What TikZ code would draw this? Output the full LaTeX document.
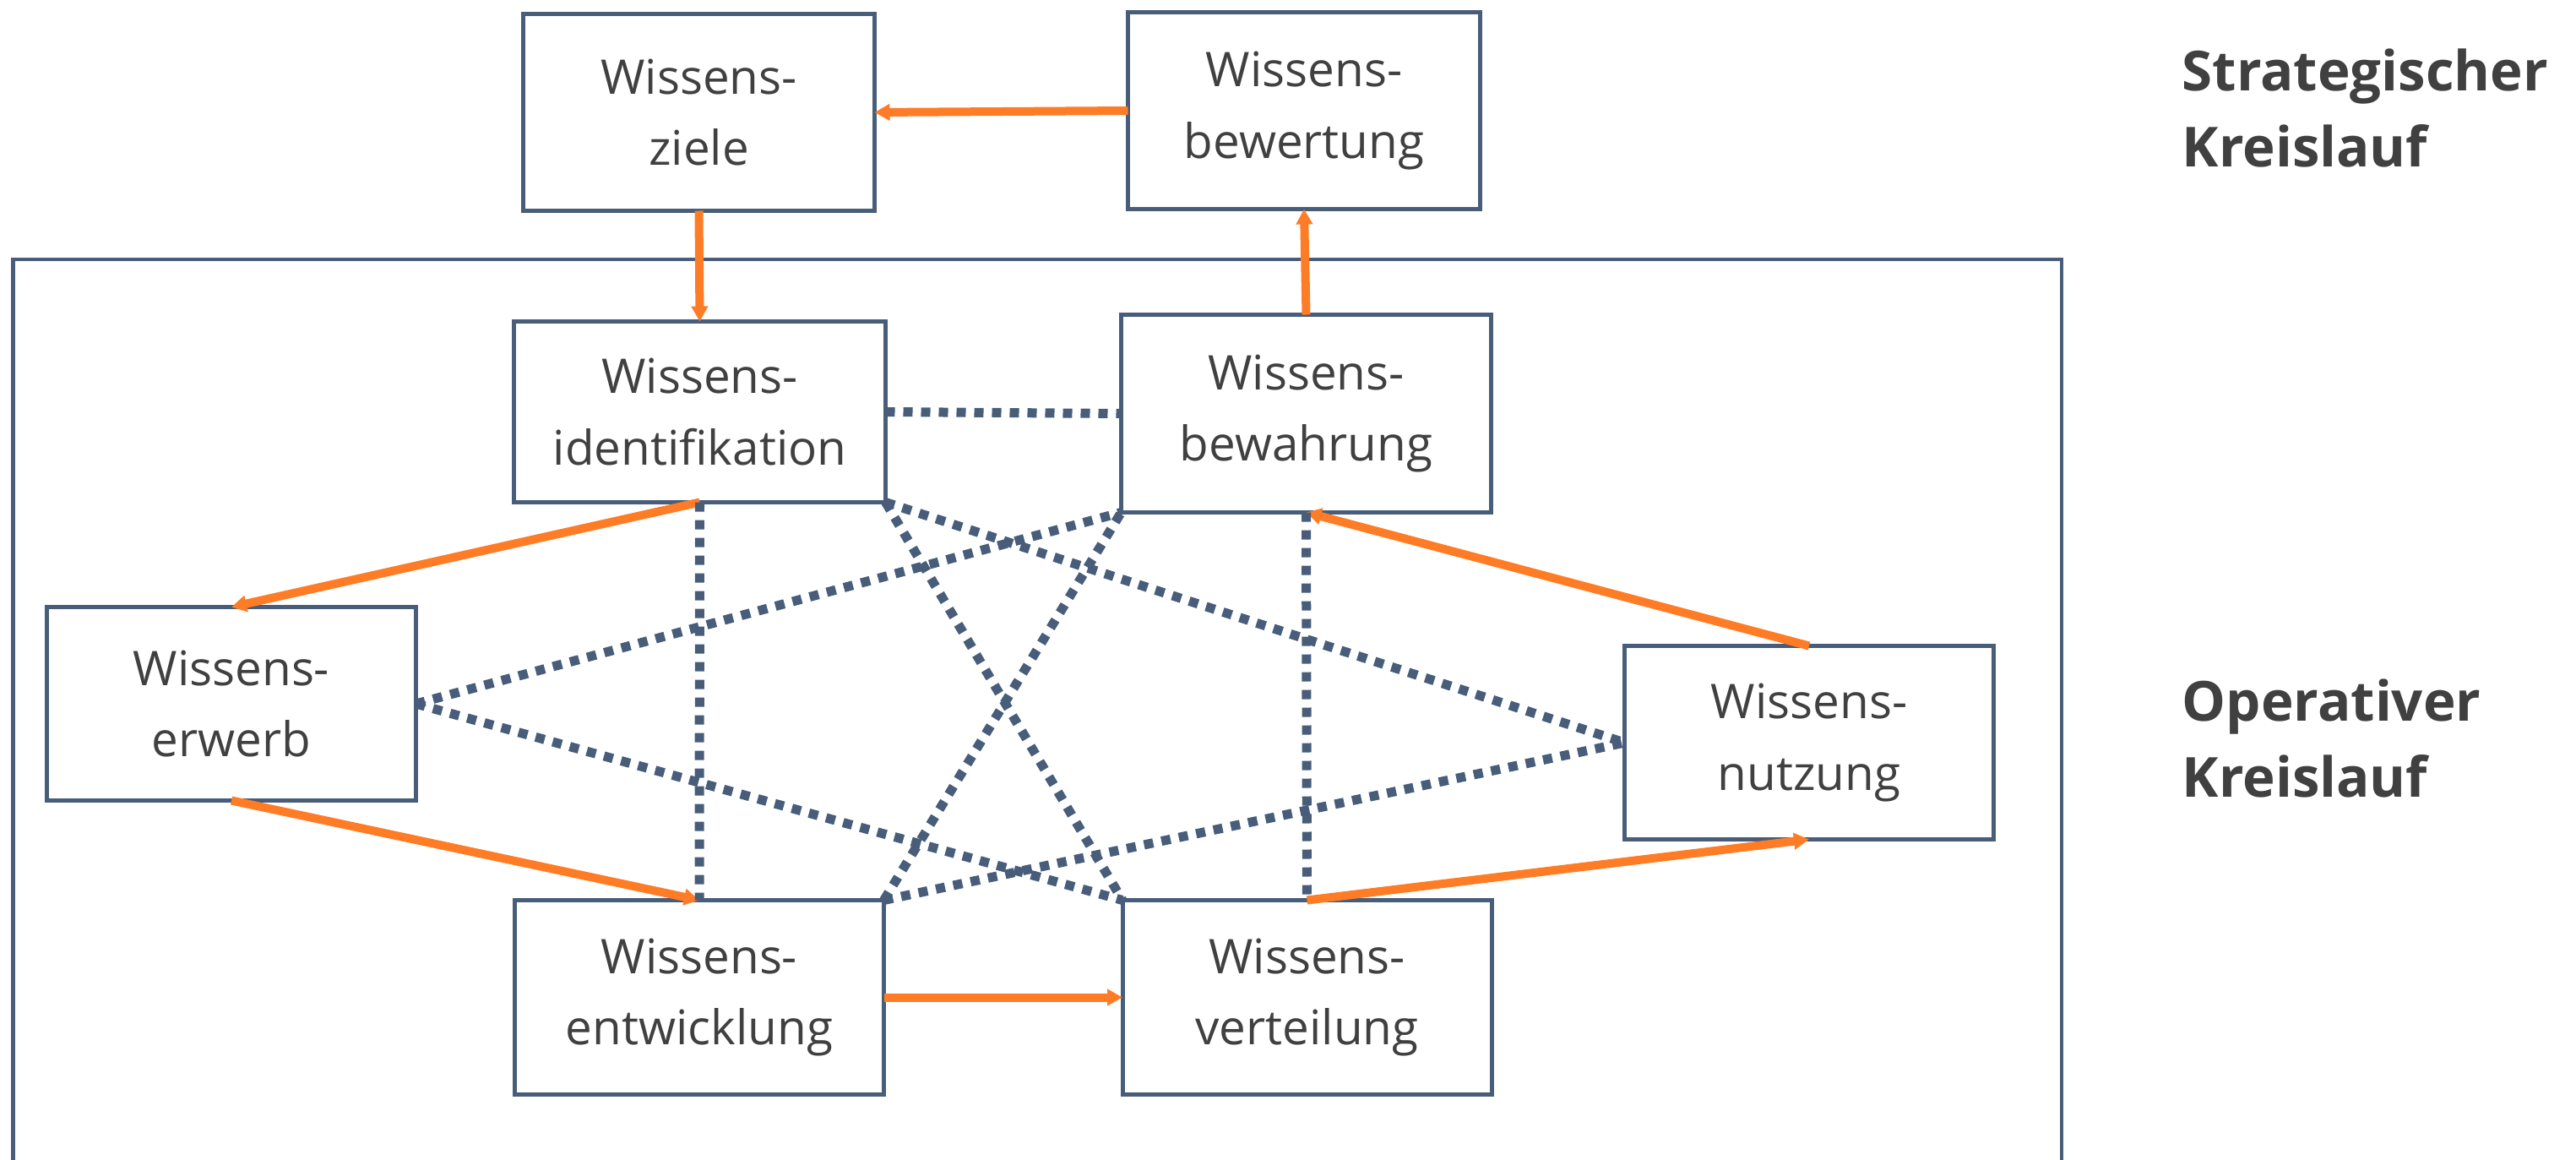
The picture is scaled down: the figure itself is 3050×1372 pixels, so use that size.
\documentclass[tikz,border=0pt]{standalone}
\usepackage{fontspec}
\setmainfont{Open Sans}
\usepackage{tikz}
\usetikzlibrary{arrows.meta}
\definecolor{rahmen}{RGB}{71,93,122}
\definecolor{pfeil}{RGB}{255,124,38}
\definecolor{schrift}{RGB}{64,64,64}

\begin{document}
\begin{tikzpicture}[x=0.1mm, y=-0.1mm,
    feld/.style={draw=rahmen, line width=0.5mm, fill=white, outer sep=0pt,
      minimum width=43.7mm, minimum height=22.9mm, align=center,
      text=schrift, font=\fontsize{16.1}{24}\selectfont},
    fluss/.style={draw=pfeil, line width=1mm, -{Triangle[length=1.8mm,width=1.9mm]}},
    bezug/.style={draw=rahmen, line width=1.1mm, dash pattern=on 1.1mm off 1mm},
    kreis/.style={text=schrift, font=\fontsize{18.6}{25.6}\selectfont\bfseries,
      align=left, anchor=north west, inner sep=0pt}]
  \useasboundingbox (0,0) rectangle (3050,1372);

  % operativer Rahmen, unten offen
  \draw[rahmen, line width=0.45mm] (15.5,1380) -- (15.5,307) -- (2441,307) -- (2441,1380);

  % Bausteine
  \node[feld, minimum width=41.6mm, minimum height=23.3mm] (ziele) at (827.5,133) {Wissens-\\ziele};
  \node[feld, minimum width=41.7mm, minimum height=23.3mm] (bewertung) at (1544,131) {Wissens-\\bewertung};
  \node[feld, minimum width=44mm, minimum height=21.4mm] (ident) at (828.5,487.5) {Wissens-\\identifikation};
  \node[feld, minimum width=43.8mm, minimum height=23.4mm] (bewahrung) at (1546.5,489.5) {Wissens-\\bewahrung};
  \node[feld] (erwerb) at (274,833) {Wissens-\\erwerb};
  \node[feld] (nutzung) at (2142,879) {Wissens-\\nutzung};
  \node[feld, minimum height=23mm] (entwicklung) at (828,1180.5) {Wissens-\\entwicklung};
  \node[feld, minimum height=23mm] (verteilung) at (1547.5,1180.5) {Wissens-\\verteilung};

  % Kreislaeufe
  \foreach \a/\b in {bewertung.west/ziele.east, ziele.south/ident.north,
      bewahrung.north/bewertung.south, ident.south/erwerb.north,
      erwerb.south/entwicklung.north, entwicklung.east/verteilung.west,
      verteilung.north/nutzung.south, nutzung.north/bewahrung.south}{
    \draw[fluss] (\a) -- (\b);
  }

  % Querbezuege
  \foreach \a/\b in {ident.east/bewahrung.west, ident.south/entwicklung.north,
      bewahrung.south/verteilung.north, ident.south east/nutzung.west,
      ident.south east/verteilung.north west, erwerb.east/bewahrung.south west,
      erwerb.east/verteilung.north west, entwicklung.north east/nutzung.west,
      entwicklung.north east/bewahrung.south west}{
    \draw[bezug] (\a) -- (\b);
  }

  \node[kreis] (strategisch) at (2583,57) {Strategischer\\Kreislauf};
  \node[kreis] (operativ) at (2583,803) {Operativer\\Kreislauf};
\end{tikzpicture}
\end{document}
